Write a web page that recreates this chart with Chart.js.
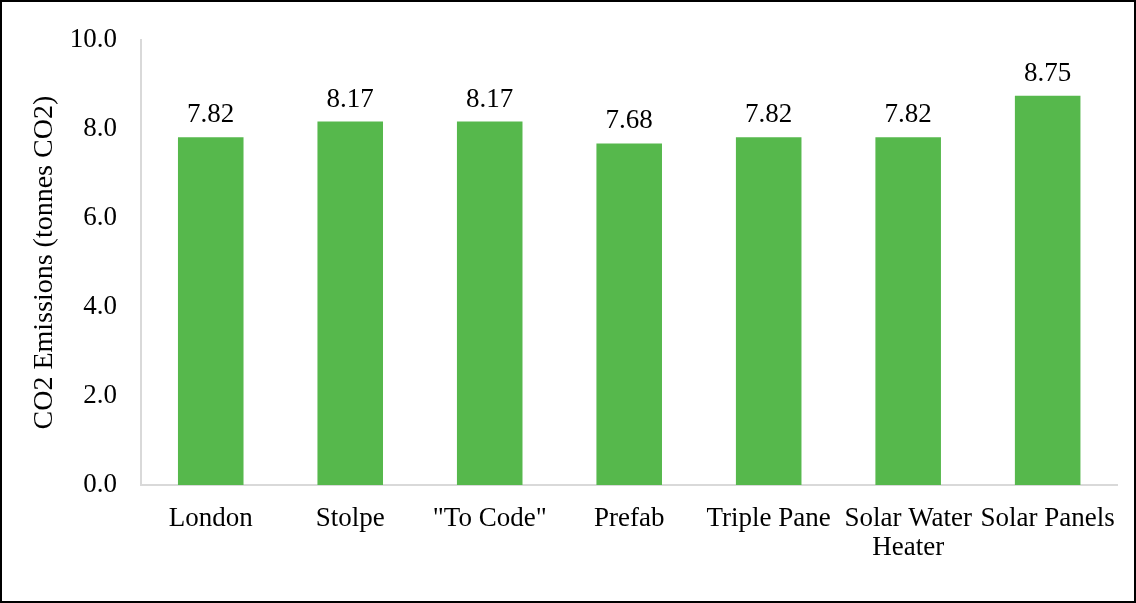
<!DOCTYPE html>
<html>
<head>
<meta charset="utf-8">
<script src="https://cdn.jsdelivr.net/npm/chart.js@4/dist/chart.umd.min.js"></script>
<style>
  html, body { margin: 0; padding: 0; background: #fff; }
  #wrap { width: 1136px; height: 603px; position: relative; }
</style>
</head>
<body>
<div id="wrap"><canvas id="chart" width="1136" height="603"></canvas></div>
<script>
// Chart data
const categories = ['London', 'Stolpe', '"To Code"', 'Prefab', 'Triple Pane', ['Solar Water', 'Heater'], 'Solar Panels'];
const emissions = [7.82, 8.17, 8.17, 7.68, 7.82, 7.82, 8.75];
const yTicks = [0, 2, 4, 6, 8, 10];

const barColor = '#56b84c';
const axisColor = '#d9d9d9';
const fontFamily = '"Liberation Serif", "Times New Roman", serif';

// draw value labels above bars
const valueLabels = {
  id: 'valueLabels',
  afterDatasetsDraw(chart) {
    const ctx = chart.ctx;
    const meta = chart.getDatasetMeta(0);
    ctx.save();
    ctx.font = '27px ' + fontFamily;
    ctx.fillStyle = '#000';
    ctx.textAlign = 'center';
    ctx.textBaseline = 'alphabetic';
    meta.data.forEach((bar, i) => {
      ctx.fillText(emissions[i].toFixed(2), bar.x, bar.y - 15);
    });
    ctx.restore();
  }
};

// outer frame
const frame = {
  id: 'frame',
  afterDraw(chart) {
    const ctx = chart.ctx;
    ctx.save();
    ctx.strokeStyle = '#000';
    ctx.lineWidth = 2;
    ctx.strokeRect(1, 1, chart.width - 2, chart.height - 2);
    ctx.restore();
  }
};

new Chart(document.getElementById('chart'), {
  type: 'bar',
  data: {
    labels: categories,
    datasets: [{
      data: emissions,
      backgroundColor: barColor,
      barPercentage: 0.47,
      categoryPercentage: 1.0
    }]
  },
  options: {
    responsive: false,
    animation: false,
    layout: { padding: { left: 0, right: 17, top: 37, bottom: 0 } },
    plugins: {
      legend: { display: false },
      tooltip: { enabled: false }
    },
    scales: {
      x: {
        grid: { display: false, drawTicks: false },
        border: { color: axisColor, width: 2 },
        ticks: {
          color: '#000',
          font: { family: fontFamily, size: 27, lineHeight: 1.05 },
          padding: 20,
          maxRotation: 0,
          autoSkip: false
        },
        afterFit(scale) { scale.height = 118; }
      },
      y: {
        min: 0,
        max: 10,
        afterBuildTicks(scale) { scale.ticks = yTicks.map(v => ({ value: v })); },
        grid: { display: false, drawTicks: false },
        border: { color: axisColor, width: 2 },
        ticks: {
          color: '#000',
          font: { family: fontFamily, size: 27 },
          padding: 24,
          callback: v => v.toFixed(1)
        },
        title: {
          display: true,
          text: 'CO2 Emissions (tonnes CO2)',
          color: '#000',
          font: { family: fontFamily, size: 28 },
          padding: { top: 28, bottom: 0 }
        },
        afterFit(scale) { scale.width = 141; }
      }
    }
  },
  plugins: [valueLabels, frame]
});
</script>
</body>
</html>
